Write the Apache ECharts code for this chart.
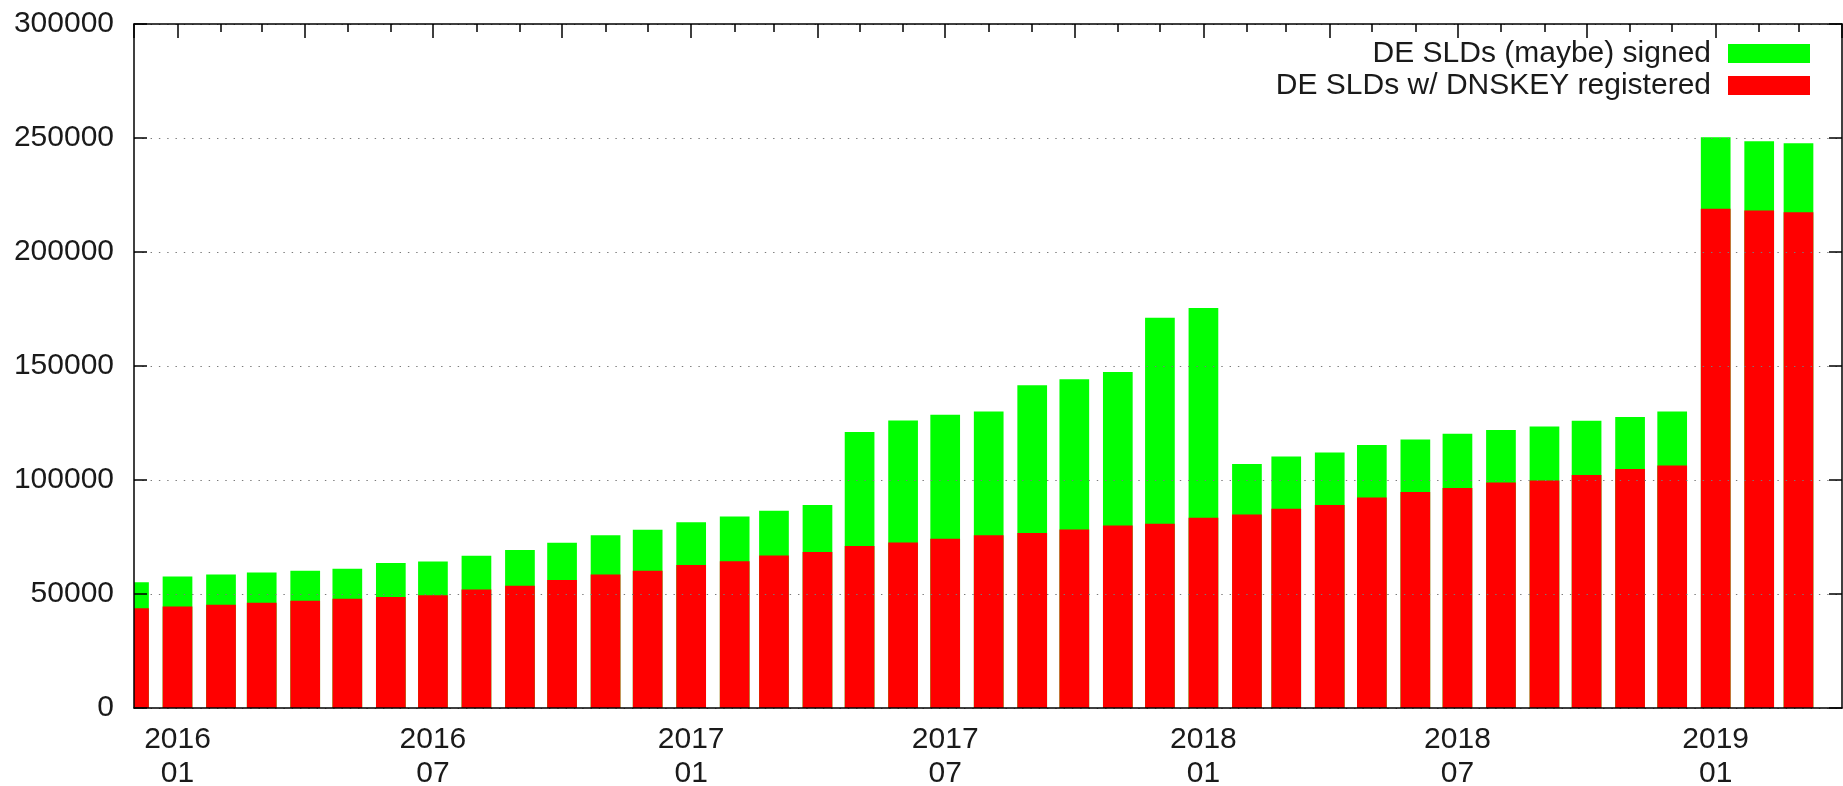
<!DOCTYPE html>
<html>
<head>
<meta charset="utf-8">
<title>DE SLDs DNSSEC</title>
<script src="https://cdn.jsdelivr.net/npm/echarts@6/dist/echarts.min.js"></script>
<style>
  html, body { margin: 0; padding: 0; background: #fff; }
  #chart { width: 1843px; height: 786px; }
</style>
</head>
<body>
<div id="chart"></div>
<script>
// one bar per month (first day of month); axis runs to 2019-04
const months = [
    '2015-12',
    '2016-01', '2016-02', '2016-03', '2016-04', '2016-05', '2016-06',
    '2016-07', '2016-08', '2016-09', '2016-10', '2016-11', '2016-12',
    '2017-01', '2017-02', '2017-03', '2017-04', '2017-05', '2017-06',
    '2017-07', '2017-08', '2017-09', '2017-10', '2017-11', '2017-12',
    '2018-01', '2018-02', '2018-03', '2018-04', '2018-05', '2018-06',
    '2018-07', '2018-08', '2018-09', '2018-10', '2018-11', '2018-12',
    '2019-01', '2019-02', '2019-03'
];
const axisStart = '2015-12-01';
const axisEnd = '2019-04-01';

const maybeSigned = [
    55200,
    57700, 58600, 59400, 60200, 61100, 63600,
    64300, 66800, 69300, 72500, 75800, 78200,
    81500, 84000, 86500, 89000, 121000, 126100,
    128600, 130000, 141600, 144200, 147400, 171200,
    175400, 107000, 110300, 112100, 115300, 117800,
    120300, 121900, 123500, 126000, 127600, 130000,
    250300, 248600, 247700
];

const dnskeyRegistered = [
    43800,
    44500, 45300, 46200, 47000, 47900, 48700,
    49500, 52000, 53600, 56100, 58600, 60200,
    62700, 64400, 66900, 68400, 71000, 72600,
    74200, 75800, 76700, 78300, 80000, 80800,
    83400, 84900, 87400, 89000, 92300, 94700,
    96500, 98900, 99800, 102200, 104800, 106400,
    219000, 218200, 217400
];

const yTicks = [0, 50000, 100000, 150000, 200000, 250000, 300000];

const FONT = 'Liberation Sans';
const TXT = '#1a1a1a';
const BAR_W = 29.7;
const DAY = 86400000;

const AXIS_LINE = {show: true, onZero: false, lineStyle: {color: '#000', width: 1.5}};

// gnuplot style boxes, clipped at the frame (first box is cut in half)
function boxes(color) {
    return function (params, api) {
        const t = api.value(0);
        const top = api.coord([t, api.value(1)]);
        const base = api.coord([t, 0]);
        const cs = params.coordSys;
        const shape = echarts.graphic.clipRectByRect(
            {x: top[0] - BAR_W / 2, y: top[1], width: BAR_W, height: base[1] - top[1]},
            {x: cs.x, y: cs.y, width: cs.width, height: cs.height}
        );
        return shape && {type: 'rect', shape: shape, style: {fill: color}};
    };
}

function monthLabel(value) {
    const d = new Date(value);
    const m = d.getMonth() + 1;
    if (d.getDate() !== 1 || (m !== 1 && m !== 7)) return '';
    return d.getFullYear() + '\n' + (m < 10 ? '0' : '') + m;
}

const chart = echarts.init(document.getElementById('chart'));

const option = {
    animation: false,
    textStyle: {fontFamily: FONT},
    grid: {left: 134, right: 1, top: 24, bottom: 78, outerBoundsMode: 'none'},
    legend: {
        orient: 'vertical',
        align: 'right',
        right: 33,
        top: 38.5,
        padding: 0,
        itemWidth: 82,
        itemHeight: 19,
        itemGap: 2,
        icon: 'rect',
        textStyle: {fontFamily: FONT, fontSize: 30, color: TXT, lineHeight: 26, padding: [0, 12, 4, 0]},
        data: ['DE SLDs (maybe) signed', 'DE SLDs w/ DNSKEY registered']
    },
    xAxis: [
        {
            type: 'time',
            min: axisStart,
            max: axisEnd,
            splitNumber: 7,
            minInterval: 150 * DAY,
            maxInterval: 150 * DAY,
            position: 'bottom',
            z: 5,
            axisLine: AXIS_LINE,
            axisTick: {show: false},
            splitLine: {show: false},
            axisLabel: {
                formatter: monthLabel,
                showMinLabel: false,
                showMaxLabel: false,
                hideOverlap: false,
                fontFamily: FONT,
                fontSize: 30,
                lineHeight: 34,
                color: TXT,
                margin: 15
            }
        },
        {
            // monthly minor ticks on the top border
            type: 'time',
            min: axisStart,
            max: axisEnd,
            splitNumber: 40,
            minInterval: 30 * DAY,
            maxInterval: 30 * DAY,
            position: 'top',
            z: 5,
            axisLine: AXIS_LINE,
            axisTick: {show: true, inside: true, length: 8, lineStyle: {color: '#000', width: 1.5}},
            axisLabel: {show: false},
            splitLine: {show: false}
        },
        {
            // half-year major ticks on the top border
            type: 'time',
            min: axisStart,
            max: axisEnd,
            splitNumber: 7,
            minInterval: 150 * DAY,
            maxInterval: 150 * DAY,
            position: 'top',
            z: 5,
            axisLine: {show: false, onZero: false},
            axisTick: {show: true, inside: true, length: 14, lineStyle: {color: '#000', width: 1.5}},
            axisLabel: {show: false},
            splitLine: {show: false}
        }
    ],
    yAxis: [
        {
            type: 'value',
            min: yTicks[0],
            max: yTicks[yTicks.length - 1],
            interval: yTicks[1] - yTicks[0],
            position: 'left',
            z: 5,
            axisLine: AXIS_LINE,
            axisTick: {show: true, inside: true, length: 13, lineStyle: {color: '#000', width: 1.5}},
            axisLabel: {
                formatter: v => String(v),
                fontFamily: FONT,
                fontSize: 30,
                color: TXT,
                margin: 20
            },
            splitLine: {show: true, lineStyle: {color: '#7a7a7a', width: 1.2, type: [1.4, 6.9]}}
        },
        {
            type: 'value',
            min: yTicks[0],
            max: yTicks[yTicks.length - 1],
            interval: yTicks[1] - yTicks[0],
            position: 'right',
            z: 5,
            axisLine: AXIS_LINE,
            axisTick: {show: true, inside: true, length: 13, lineStyle: {color: '#000', width: 1.5}},
            axisLabel: {show: false},
            splitLine: {show: false}
        }
    ],
    series: [
        {
            name: 'DE SLDs (maybe) signed',
            type: 'custom',
            renderItem: boxes('#00ff00'),
            itemStyle: {color: '#00ff00'},
            encode: {x: 0, y: 1},
            data: months.map((m, i) => [m + '-01', maybeSigned[i]])
        },
        {
            name: 'DE SLDs w/ DNSKEY registered',
            type: 'custom',
            renderItem: boxes('#ff0000'),
            itemStyle: {color: '#ff0000'},
            encode: {x: 0, y: 1},
            data: months.map((m, i) => [m + '-01', dnskeyRegistered[i]])
        }
    ]
};

chart.setOption(option);
</script>
</body>
</html>
